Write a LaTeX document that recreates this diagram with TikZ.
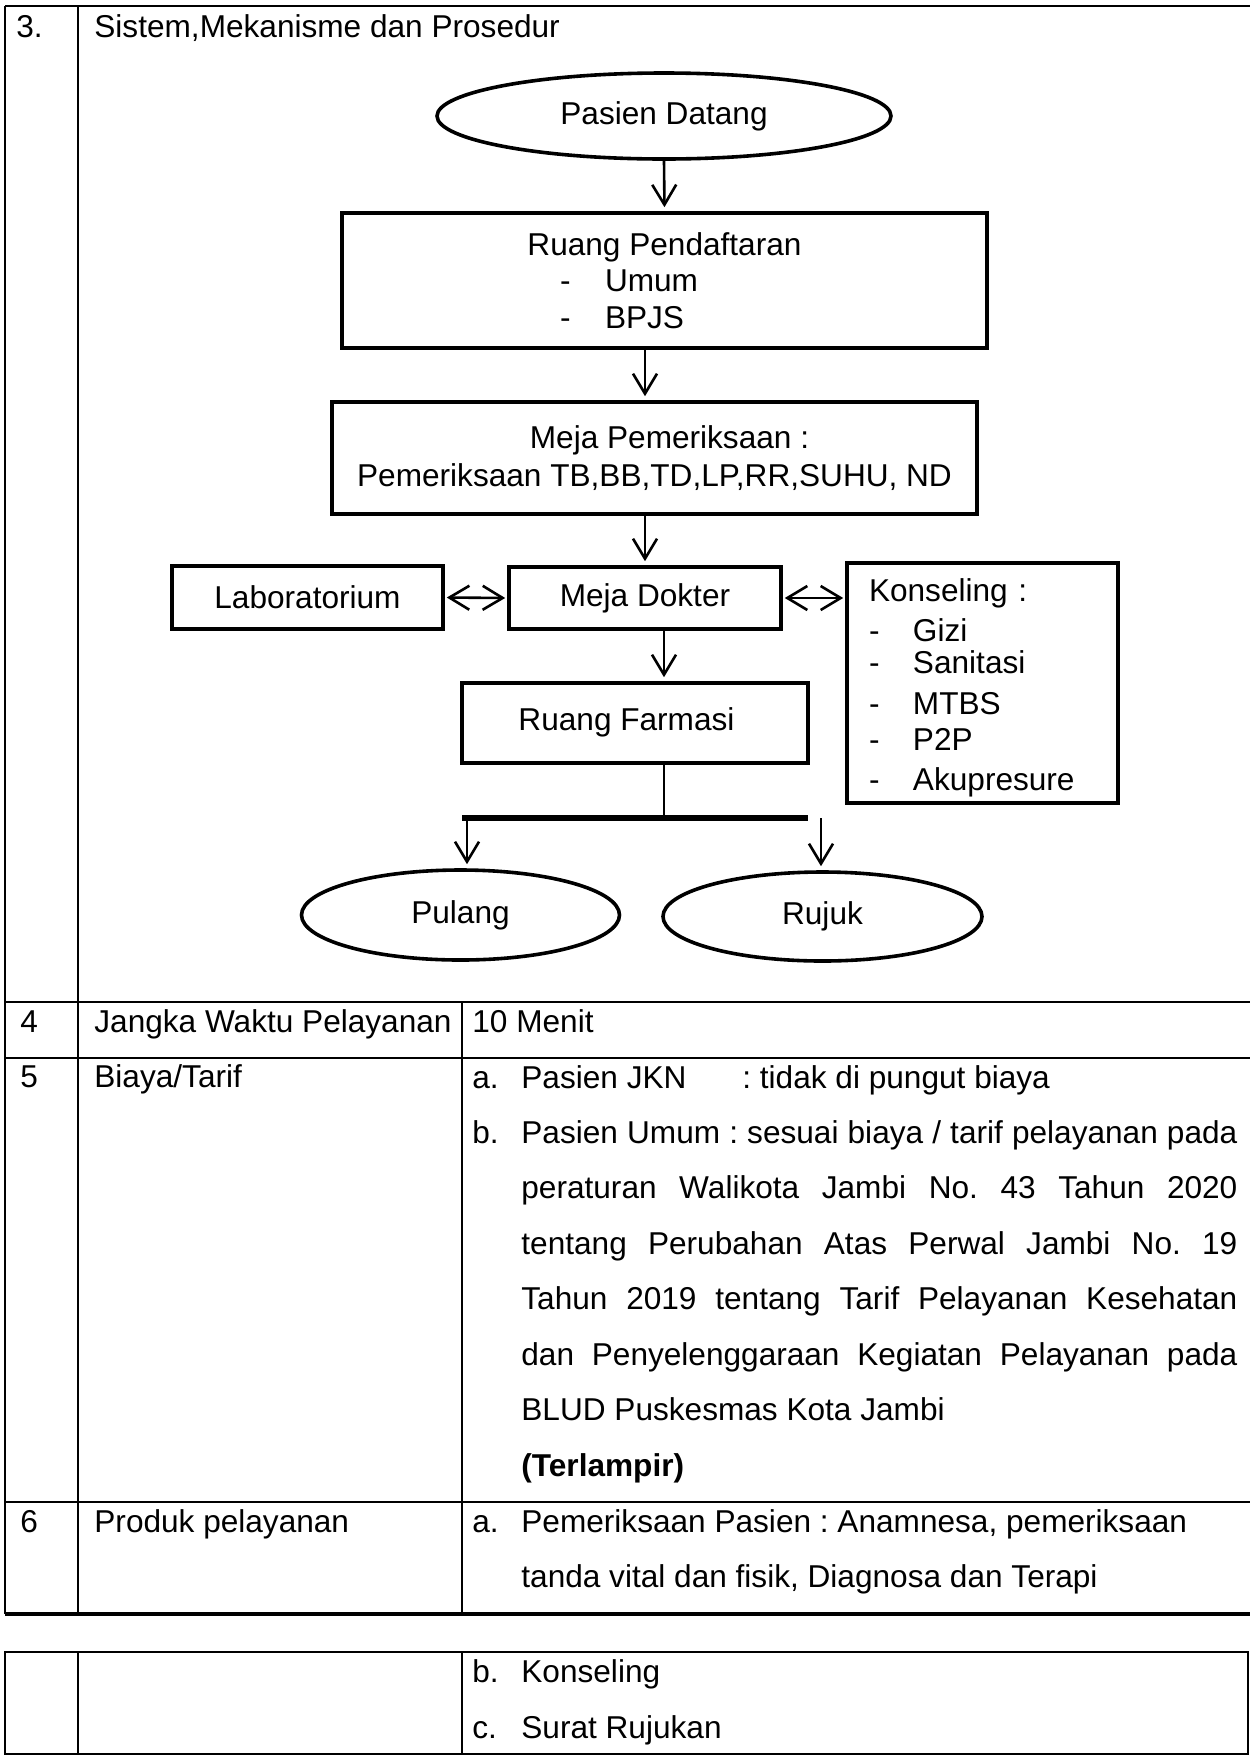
\documentclass[tikz,border=0pt]{standalone}
\usepackage{fontspec}
\setmainfont{Liberation Sans}
\frenchspacing
\usetikzlibrary{arrows.meta,shapes.geometric}
\tikzset{
  box/.style={draw,line width=1.8pt,inner sep=2pt},
  oval/.style={ellipse,draw,line width=1.8pt,inner sep=0pt},
  flow/.style={line width=1.3pt,-{Straight Barb[length=10pt,width=12pt]},shorten >=2pt},
  both/.style={line width=1.3pt,{Straight Barb[length=10pt,width=12pt]}-{Straight Barb[length=10pt,width=12pt]},shorten <=1pt,shorten >=1pt},
  tline/.style={line width=1.3pt},
  cell/.style={anchor=base west,inner sep=0pt},
}

\begin{document}
\begin{tikzpicture}[x=0.5pt,y=-0.5pt,font=\fontsize{15.8pt}{18.7pt}\selectfont]
\useasboundingbox (0,0) rectangle (1250,1757);
% table
\draw[tline] (5,6) -- (1250,6);
\draw[tline] (5,6) -- (5,1614);
\draw[tline] (78,6) -- (78,1614);
\draw[tline] (462,1002) -- (462,1614);
\draw[tline] (5,1002) -- (1250,1002);
\draw[tline] (5,1058) -- (1250,1058);
\draw[tline] (5,1502) -- (1250,1502);
\draw[line width=1.6pt] (5,1614) -- (1250,1614);
\draw[tline] (5,1652) rectangle (1248,1754);
\draw[tline] (78,1652) -- (78,1754);
\draw[tline] (462,1652) -- (462,1754);
\node[cell] (no3) at (16,37) {3.};
\node[cell] (judul3) at (94,37) {Sistem,Mekanisme dan Prosedur};
\node[cell] (no4) at (20,1032) {4};
\node[cell] (judul4) at (94,1032) {Jangka Waktu Pelayanan};
\node[cell] (isi4) at (472,1032) {10 Menit};
\node[cell] (no5) at (20,1087) {5};
\node[cell] (judul5) at (94,1087) {Biaya/Tarif};
\node[cell] (a5) at (472,1088) {a.};
\node[cell] (jkn) at (521,1088) {Pasien JKN};
\node[cell] (jknisi) at (742,1088) {: tidak di pungut biaya};
\node[cell] (b5) at (472,1143) {b.};
\node[cell,text width=358pt,align=justify,font=\fontsize{15.8pt}{27.75pt}\selectfont] (umum) at (521,1143)
  {Pasien Umum : sesuai biaya / tarif pelayanan pada\linebreak
   peraturan Walikota Jambi No. 43 Tahun 2020\linebreak
   tentang Perubahan Atas Perwal Jambi No. 19\linebreak
   Tahun 2019 tentang Tarif Pelayanan Kesehatan\linebreak
   dan Penyelenggaraan Kegiatan Pelayanan pada\linebreak
   BLUD Puskesmas Kota Jambi\par
   \textbf{(Terlampir)}};
\node[cell] (no6) at (20,1532) {6};
\node[cell] (judul6) at (94,1532) {Produk pelayanan};
\node[cell] (a6) at (472,1532) {a.};
\node[cell] (periksa6) at (521,1532) {Pemeriksaan Pasien : Anamnesa, pemeriksaan};
\node[cell] (periksa6b) at (521,1587) {tanda vital dan fisik, Diagnosa dan Terapi};
\node[cell] (b6) at (472,1682) {b.};
\node[cell] (konsel6) at (521,1682) {Konseling};
\node[cell] (c6) at (472,1738) {c.};
\node[cell] (rujuk6) at (521,1738) {Surat Rujukan};
% flowchart
\node[oval,minimum width=227pt,minimum height=43pt] (datang) at (664,116) {Pasien Datang};
\node[box,minimum width=322.5pt,minimum height=67.5pt,align=center,font=\fontsize{15.8pt}{18.25pt}\selectfont] (daftar) at (664.5,280.5)
  {Ruang Pendaftaran\\
   \makebox[104.5pt][l]{\makebox[22.5pt][l]{-}Umum}\\
   \makebox[104.5pt][l]{\makebox[22.5pt][l]{-}BPJS}};
\node[box,minimum width=322.5pt,minimum height=56pt,align=center,font=\fontsize{15.8pt}{19pt}\selectfont] (periksa) at (654.5,458)
  {\raisebox{2pt}{\hspace*{15pt}Meja Pemeriksaan :}\\\raisebox{2pt}{Pemeriksaan TB,BB,TD,LP,RR,SUHU, ND}};
\node[box,minimum width=135.5pt,minimum height=31.5pt] (lab) at (307.5,597.5) {Laboratorium};
\node[box,minimum width=136pt,minimum height=31pt] (dokter) at (645,598) {Meja Dokter};
\node[box,minimum height=120pt,text width=113.5pt,inner xsep=11pt,align=left,font=\fontsize{15.8pt}{16pt}\selectfont] (konsel) at (982.5,683)
  {\rule{0pt}{16.5pt}Konseling :\\[4pt]
   \makebox[22pt][l]{-}Gizi\\
   \makebox[22pt][l]{-}Sanitasi\\[4.5pt]
   \makebox[22pt][l]{-}MTBS\\[2pt]
   \makebox[22pt][l]{-}P2P\\[4pt]
   \makebox[22pt][l]{-}Akupresure};
\node[box,minimum width=173pt,minimum height=40pt] (farmasi) at (635,723) {\raisebox{4pt}{Ruang Farmasi}\hspace*{8.5pt}};
\node[oval,minimum width=159pt,minimum height=45pt] (pulang) at (460.5,915) {Pulang};
\node[oval,minimum width=159.5pt,minimum height=44.5pt] (rujuk) at (822.5,916.5) {Rujuk};
\coordinate (barL) at (462,818);
\coordinate (barR) at (808,818);
\coordinate (kePulang) at (467,818);
\coordinate (keRujuk) at (821,818);
\draw[flow] (datang.south) -- (daftar.north);
\draw[flow] (daftar.south -| dokter.north) -- (periksa.north -| dokter.north);
\draw[flow] (periksa.south -| dokter.north) -- (dokter.north);
\draw[both] (lab.east) -- (dokter.west);
\draw[both] (dokter.east) -- (konsel.west |- dokter.east);
\draw[flow] (dokter.south -| datang.south) -- (farmasi.north -| datang.south);
\draw[line width=1.3pt] (farmasi.south -| datang.south) -- (barL -| datang.south);
\draw[line width=2.8pt] (barL) -- (barR);
\draw[flow] (kePulang) -- (kePulang |- pulang.north);
\draw[flow] (keRujuk) -- (keRujuk |- rujuk.north);
\end{tikzpicture}
\end{document}
